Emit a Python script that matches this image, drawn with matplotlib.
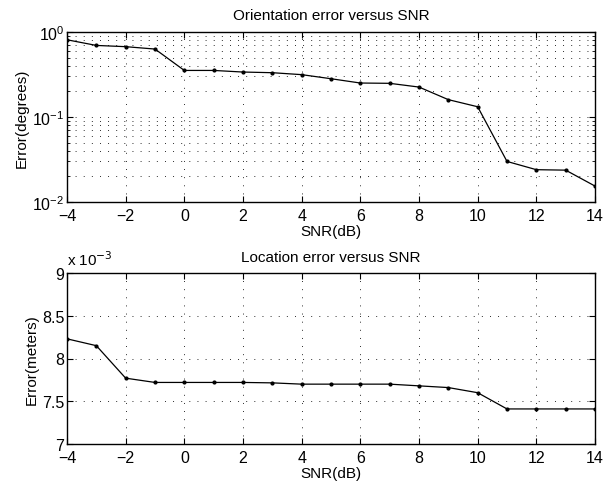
import matplotlib
matplotlib.use('Agg')
import matplotlib.pyplot as plt
from matplotlib.ticker import FixedLocator, LogLocator, NullFormatter, FormatStrFormatter

plt.rcParams['font.family'] = ['Liberation Sans', 'DejaVu Sans']

# data
snr = [-4, -3, -2, -1, 0, 1, 2, 3, 4, 5, 6, 7, 8, 9, 10, 11, 12, 13, 14]
orient_err = [0.81, 0.695, 0.672, 0.63, 0.353, 0.353, 0.338, 0.332, 0.315, 0.282,
              0.251, 0.249, 0.225, 0.16, 0.132, 0.030, 0.024, 0.0237, 0.0154]
loc_err = [8.23, 8.15, 7.77, 7.72, 7.72, 7.72, 7.72, 7.715, 7.70, 7.70,
           7.70, 7.70, 7.68, 7.66, 7.60, 7.41, 7.41, 7.41, 7.41]  # x 1e-3 m
xticks = [-4, -2, 0, 2, 4, 6, 8, 10, 12, 14]
loc_yticks = [7, 7.5, 8, 8.5, 9]

fig = plt.figure(figsize=(6.03, 4.89), dpi=100)
ax1 = fig.add_axes([67/603, 1 - 203/489, 528/603, 170/489])
ax2 = fig.add_axes([67/603, 1 - 445/489, 528/603, 171/489])

grid_kw = dict(color='0.05', linestyle=(0, (1, 8)), linewidth=0.65)

# top: orientation error
ax1.semilogy(snr, orient_err, 'k.-', linewidth=0.9, markersize=4)
ax1.set_xlim(-4, 14)
ax1.set_ylim(1e-2, 1)
ax1.set_xticks(xticks)
ax1.yaxis.set_major_locator(LogLocator(base=10))
ax1.yaxis.set_minor_locator(LogLocator(base=10, subs=range(2, 10)))
ax1.yaxis.set_minor_formatter(NullFormatter())
ax1.grid(True, which='major', **grid_kw)
ax1.grid(True, which='minor', axis='y', **grid_kw)
ax1.set_xlabel('SNR(dB)', fontsize=11, labelpad=1)
ax1.set_ylabel('Error(degrees)', fontsize=11, labelpad=2)
ax1.set_title('Orientation error versus SNR', fontsize=11, pad=9)

# bottom: location error
ax2.plot(snr, loc_err, 'k.-', linewidth=0.9, markersize=4)
ax2.set_xlim(-4, 14)
ax2.set_ylim(7, 9)
ax2.set_xticks(xticks)
ax2.yaxis.set_major_locator(FixedLocator(loc_yticks))
ax2.yaxis.set_major_formatter(FormatStrFormatter('%g'))
ax2.grid(True, **grid_kw)
ax2.set_xlabel('SNR(dB)', fontsize=11, labelpad=1)
ax2.set_ylabel('Error(meters)', fontsize=11, labelpad=2)
ax2.set_title('Location error versus SNR', fontsize=11, pad=9)
ax2.text(0, 1.03, r'x 10$^{-3}$', transform=ax2.transAxes, fontsize=11,
         ha='left', va='bottom')

for ax in (ax1, ax2):
    ax.tick_params(which='both', direction='in', top=True, right=True,
                   labelsize=11.5)
    ax.tick_params(axis='x', which='both', pad=4)
    ax.tick_params(axis='y', which='both', pad=2)
    ax.tick_params(which='major', length=4)
    ax.tick_params(which='minor', length=2)
    for s in ax.spines.values():
        s.set_linewidth(1.0)

fig.savefig('out.png', dpi=100)
